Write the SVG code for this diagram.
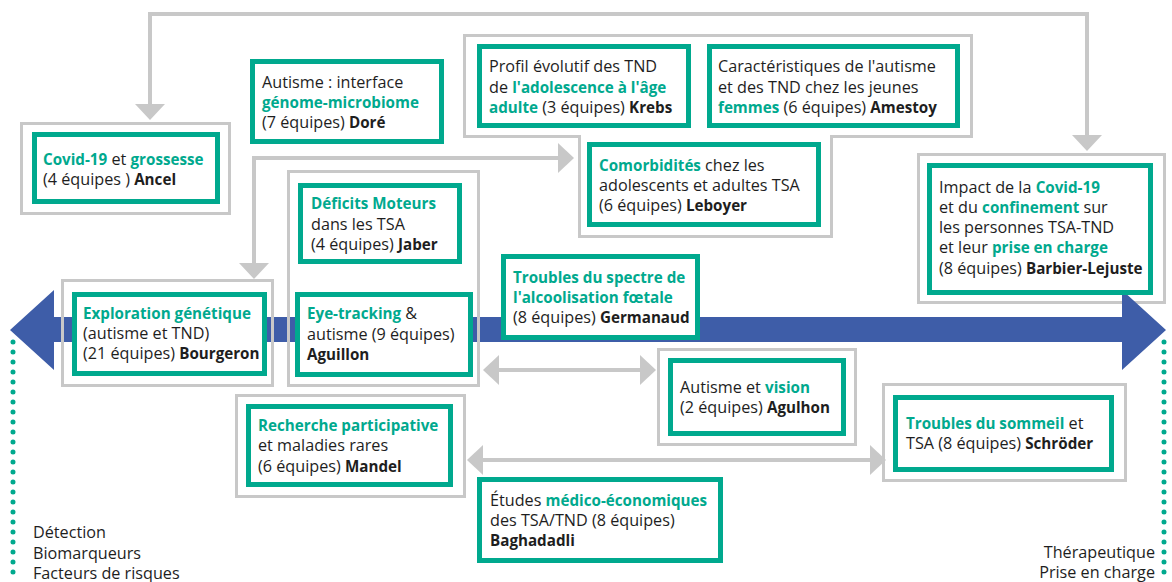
<svg xmlns="http://www.w3.org/2000/svg" width="1172" height="582" viewBox="0 0 1172 582">
<defs>
<style>
.frame{fill:none;stroke:#c8c8c8;stroke-width:3}
.box{fill:#ffffff;stroke:#00a98e;stroke-width:5}
.conn{fill:none;stroke:#c8c8c8;stroke-width:4}
text{font-family:"Open Sans","Noto Sans","DejaVu Sans",sans-serif;font-size:16.2px;fill:#1e1e1e}
.g{fill:#00a98e;font-weight:700;font-size:15.2px}
.b{font-weight:700;font-size:15.2px}
.dots{fill:none;stroke:#00a98e;stroke-width:5;stroke-linecap:round;stroke-dasharray:0 10}
</style>
<marker id="ah" markerUnits="userSpaceOnUse" markerWidth="16" markerHeight="30" viewBox="0 0 16 30" refX="0" refY="15" orient="auto-start-reverse">
<path d="M0,0 L16,15 L0,30 z" fill="#c8c8c8"/>
</marker>
</defs>

<g id="impact-frame"><rect class="frame" x="918.5" y="154.5" width="246" height="148"/></g>

<g id="timeline-axis">
<polygon points="10,330 54,290 54,317 1122,317 1122,290 1166,330 1122,370 1122,342 54,342 54,370" fill="#3e5da8"/>
<path class="dots" d="M13,342 V582"/>
<path class="dots" d="M1164,342 V582"/>
</g>

<g id="connectors">
<path class="conn" d="M150,104 V14 H1087 V135" marker-start="url(#ah)" marker-end="url(#ah)"/>
<path class="conn" d="M254,263 V158 H558" marker-start="url(#ah)" marker-end="url(#ah)"/>
<path class="conn" d="M499,370 H640" marker-start="url(#ah)" marker-end="url(#ah)"/>
<path class="conn" d="M483,460 H870" marker-start="url(#ah)" marker-end="url(#ah)"/>
</g>

<g id="covid-grossesse">
<rect class="frame" x="21.5" y="123.5" width="208" height="90"/>
<rect class="box" x="34.5" y="134.5" width="183" height="67"/>
<text x="43" y="165"><tspan class="g">Covid-19</tspan> et <tspan class="g">grossesse</tspan></text>
<text x="43" y="185">(4 équipes ) <tspan class="b">Ancel</tspan></text>
</g>

<g id="genome-microbiome">
<rect class="box" x="252.5" y="61.5" width="189" height="80"/>
<text x="262" y="88">Autisme : interface</text>
<text x="262" y="108" class="g">génome-microbiome</text>
<text x="262" y="128">(7 équipes) <tspan class="b">Doré</tspan></text>
</g>

<g id="ado-frame">
<polygon class="frame" points="464.5,35.5 971.5,35.5 971.5,136.5 831.5,136.5 831.5,236.5 579.5,236.5 579.5,136.5 464.5,136.5"/>
</g>

<g id="profil-evolutif">
<rect class="box" x="479.5" y="46.5" width="209" height="79"/>
<text x="489" y="72">Profil évolutif des TND</text>
<text x="489" y="93">de <tspan class="g">l'adolescence à l'âge</tspan></text>
<text x="489" y="113"><tspan class="g">adulte</tspan> (3 équipes) <tspan class="b">Krebs</tspan></text>
</g>

<g id="jeunes-femmes">
<rect class="box" x="709.5" y="46.5" width="248" height="79"/>
<text x="718" y="72">Caractéristiques de l'autisme</text>
<text x="718" y="93">et des TND chez les jeunes</text>
<text x="718" y="113"><tspan class="g">femmes</tspan> (6 équipes) <tspan class="b">Amestoy</tspan></text>
</g>

<g id="comorbidites">
<rect class="box" x="589.5" y="144.5" width="229" height="80"/>
<text x="599" y="171"><tspan class="g">Comorbidités</tspan> chez les</text>
<text x="599" y="191">adolescents et adultes TSA</text>
<text x="599" y="211">(6 équipes) <tspan class="b">Leboyer</tspan></text>
</g>

<g id="covid-confinement">
<rect class="box" x="929.5" y="165.5" width="221" height="127"/>
<text x="939" y="193">Impact de la <tspan class="g">Covid-19</tspan></text>
<text x="939" y="213">et du <tspan class="g">confinement</tspan> sur</text>
<text x="939" y="233">les personnes TSA-TND</text>
<text x="939" y="253">et leur <tspan class="g">prise en charge</tspan></text>
<text x="939" y="274">(8 équipes) <tspan class="b">Barbier-Lejuste</tspan></text>
</g>

<g id="exploration-genetique">
<rect class="frame" x="62.5" y="280.5" width="210" height="105"/>
<rect class="box" x="74.5" y="294.5" width="190" height="79"/>
<text x="83" y="319" class="g">Exploration génétique</text>
<text x="83" y="339">(autisme et TND)</text>
<text x="83" y="359">(21 équipes) <tspan class="b">Bourgeron</tspan></text>
</g>

<g id="moteur-frame"><rect class="frame" x="288.5" y="171.5" width="190" height="214"/></g>

<g id="deficits-moteurs">
<rect class="box" x="300.5" y="185.5" width="159" height="76"/>
<text x="311" y="209" class="g">Déficits Moteurs</text>
<text x="311" y="230">dans les TSA</text>
<text x="311" y="250">(4 équipes) <tspan class="b">Jaber</tspan></text>
</g>

<g id="eye-tracking">
<rect class="box" x="297.5" y="294.5" width="173" height="80"/>
<text x="307" y="319"><tspan class="g">Eye-tracking</tspan> &amp;</text>
<text x="307" y="340">autisme (9 équipes)</text>
<text x="307" y="360" class="b">Aguillon</text>
</g>

<g id="alcoolisation-foetale">
<rect class="box" x="503.5" y="256.5" width="194" height="81"/>
<text x="513" y="283" class="g">Troubles du spectre de</text>
<text x="513" y="303" class="g">l'alcoolisation fœtale</text>
<text x="513" y="323">(8 équipes) <tspan class="b">Germanaud</tspan></text>
</g>

<g id="vision">
<rect class="frame" x="658.5" y="349.5" width="197" height="95"/>
<rect class="box" x="670.5" y="360.5" width="173" height="73"/>
<text x="680" y="393">Autisme et <tspan class="g">vision</tspan></text>
<text x="680" y="413">(2 équipes) <tspan class="b">Agulhon</tspan></text>
</g>

<g id="recherche-participative">
<rect class="frame" x="236.5" y="395.5" width="228" height="101"/>
<rect class="box" x="248.5" y="406.5" width="202" height="78"/>
<text x="258" y="431" class="g">Recherche participative</text>
<text x="258" y="451">et maladies rares</text>
<text x="258" y="472">(6 équipes) <tspan class="b">Mandel</tspan></text>
</g>

<g id="medico-economiques">
<rect class="box" x="479.5" y="479.5" width="241" height="81"/>
<text x="490" y="506">Études <tspan class="g">médico-économiques</tspan></text>
<text x="490" y="526">des TSA/TND (8 équipes)</text>
<text x="490" y="546" class="b">Baghadadli</text>
</g>

<g id="sommeil">
<rect class="frame" x="883.5" y="384.5" width="242" height="96"/>
<rect class="box" x="895.5" y="397.5" width="216" height="72"/>
<text x="906" y="429"><tspan class="g">Troubles du sommeil</tspan> et</text>
<text x="906" y="449">TSA (8 équipes) <tspan class="b">Schröder</tspan></text>
</g>

<g id="axis-labels">
<text x="33" y="538">Détection</text>
<text x="33" y="559">Biomarqueurs</text>
<text x="33" y="579">Facteurs de risques</text>
<text x="1155" y="558" text-anchor="end">Thérapeutique</text>
<text x="1155" y="578" text-anchor="end">Prise en charge</text>
</g>
</svg>
